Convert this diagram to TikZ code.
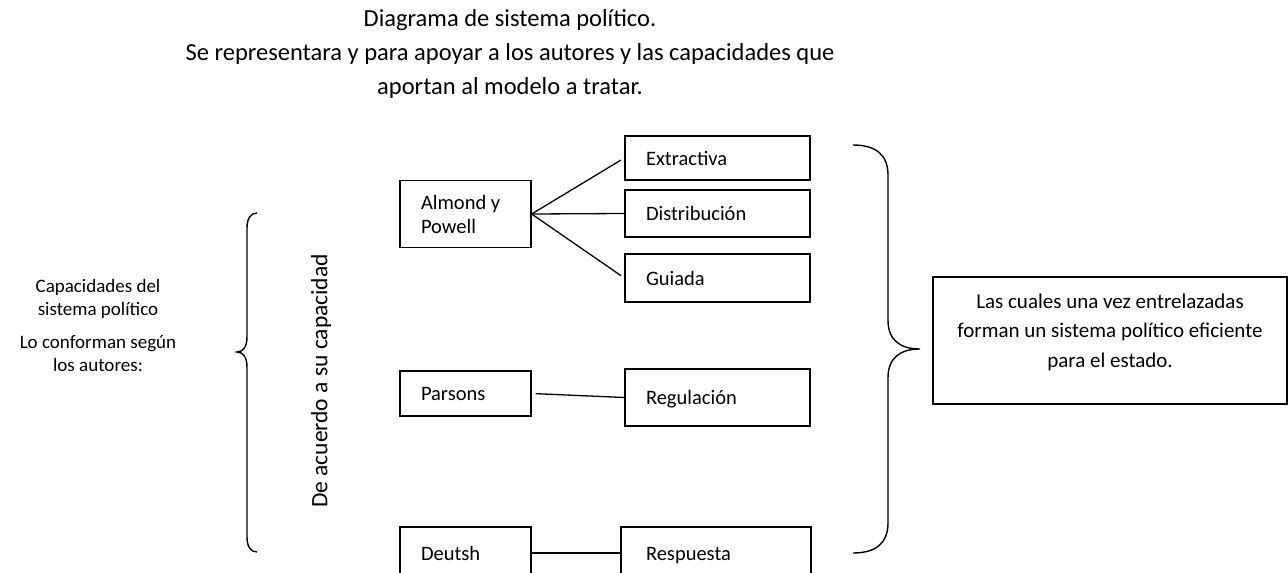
\documentclass[tikz,border=0pt]{standalone}
\usepackage{fontspec}
\setmainfont{Carlito}
\begin{document}
\begin{tikzpicture}[x=1pt,y=-1pt,
  bx/.style={draw, line width=1.3pt, inner xsep=21pt, inner ysep=0pt, align=flush left,
    text height=17pt, text depth=3pt, font=\fontsize{20.5}{24}\selectfont},
  bx2/.style={draw, line width=1.3pt, inner xsep=21pt, inner ysep=0pt, align=flush left,
    font=\fontsize{20.5}{24}\selectfont},
  wide/.style={minimum width=185pt, text width=143pt},
  narrow/.style={minimum width=131pt, text width=89pt},
  link/.style={line width=1.3pt},
  brace/.style={line width=1.4pt},
  plain/.style={align=center, inner sep=0pt}]
\useasboundingbox (0,0) rectangle (1288,573);

% title
\node[plain, font=\fontsize{24.5}{34}\selectfont] (title) at (510,54)
  {Diagrama de sistema político.\\Se representara y para apoyar a los autores y las capacidades que\\aportan al modelo a tratar.};

% left side text
\node[plain, font=\fontsize{19}{23}\selectfont] (side) at (98,325)
  {Capacidades del\\sistema político\\[10pt]Lo conforman según\\los autores:};

% vertical text
\node[plain, rotate=90, font=\fontsize{23.5}{26}\selectfont] (vert) at (321,381) {De acuerdo a su capacidad};

% boxes
\node[bx2, narrow, minimum height=67pt] (alm) at (465.5,214) {Almond y\\Powell};
\node[bx, wide, minimum height=44pt] (ext) at (717.5,158) {Extractiva};
\node[bx, wide, minimum height=47pt] (dis) at (717.5,213.5) {Distribución};
\node[bx, wide, minimum height=48pt] (gui) at (717.5,278) {Guiada};
\node[bx, narrow, minimum height=45pt] (par) at (465.5,393.5) {Parsons};
\node[bx, wide, minimum height=57pt] (reg) at (717.5,397.5) {Regulación};
\node[bx, narrow, minimum height=52pt] (deu) at (465.5,553) {Deutsh};
\node[bx, inner xsep=25pt, minimum width=190pt, text width=140pt, minimum height=52pt] (res) at (716,553) {Respuesta};

% connectors
\draw[link, shorten >=4pt] (alm.east) -- (ext.west);
\draw[link] (alm.east) -- (dis.west);
\draw[link, shorten >=4pt] (alm.east) -- (gui.west);
\draw[link, shorten <=4pt] (par.east) -- (reg.west);
\draw[link] (deu.east) -- (res.west);

% left brace
\draw[brace] (257,213) .. controls (251,213) and (247,218) .. (247,228)
  -- (247,337) .. controls (247,347) and (243,352) .. (237,352)
  .. controls (243,352) and (247,357) .. (247,367)
  -- (247,537) .. controls (247,547) and (251,552) .. (257,552);

% right brace
\draw[brace] (853,145) .. controls (876,145) and (888,155) .. (888,175)
  -- (888,320) .. controls (888,340) and (900,349) .. (920,349)
  .. controls (900,349) and (888,358) .. (888,378)
  -- (888,523) .. controls (888,543) and (876,553) .. (853,553);

% right box
\node[draw, line width=1.3pt, minimum width=354pt, minimum height=127pt, inner sep=0pt] (rb) at (1110,340.5) {};
\node[plain, font=\fontsize{21}{29.5}\selectfont] (rbt) at (1110,332)
  {Las cuales una vez entrelazadas\\forman un sistema político eficiente\\para el estado.};
\end{tikzpicture}
\end{document}
